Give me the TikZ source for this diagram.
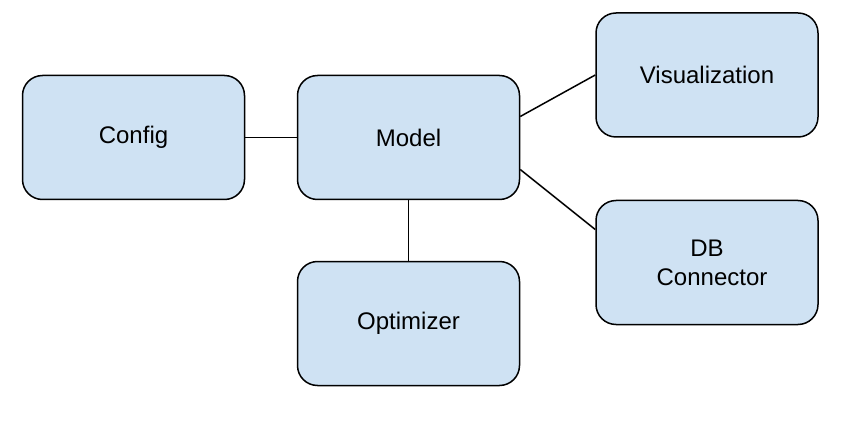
\documentclass[tikz,border=0pt]{standalone}
\usepackage{fontspec}
\setmainfont{Liberation Sans}
\begin{document}
\begin{tikzpicture}[x=1pt,y=-1pt,
  block/.style={draw=black, line width=1.5pt, fill=boxblue, rounded corners=20pt,
    minimum width=222pt, minimum height=124pt, inner sep=0pt, align=center,
    font=\fontsize{24}{29}\selectfont},
  link/.style={draw=black, line width=1.5pt}]
\definecolor{boxblue}{HTML}{CFE2F3}
\useasboundingbox (0,0) rectangle (867,422);
% component boxes
\node[block] (config) at (133.5,137.5) {Config};
\node[block] (model) at (408.5,137.5) {Model};
\node[block] (vis) at (707,75) {Visualization};
\node[block] (db) at (707,262.5) {DB\\\hspace*{10pt}Connector};
\node[block] (opt) at (408.5,323.5) {Optimizer};
% connections
\draw[link] (config.east) -- (model.west);
\draw[link] ([yshift=21pt]model.east) -- (vis.west);
\draw[link] ([yshift=-32pt]model.east) -- ([yshift=33pt]db.west);
\draw[link] (model.south) -- (opt.north);
\end{tikzpicture}
\end{document}
